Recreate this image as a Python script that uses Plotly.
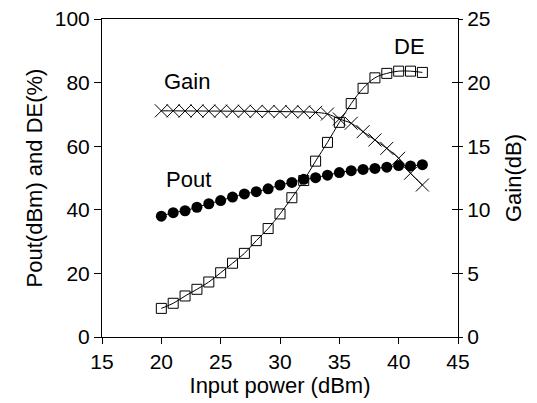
import plotly.graph_objects as go

input_power = list(range(20, 43))
pout = [38.0, 39.1, 39.7, 40.8, 41.9, 42.9, 44.0, 45.0, 45.7, 46.6, 47.8, 48.6,
        49.6, 50.1, 50.9, 51.7, 52.3, 52.7, 53.0, 53.4, 53.9, 53.8, 54.2]
de = [9.0, 10.6, 12.9, 15.0, 17.3, 20.2, 23.2, 26.3, 30.3, 34.1, 38.7, 43.8,
      49.2, 55.3, 61.2, 67.5, 73.4, 78.2, 81.5, 82.9, 83.6, 83.6, 83.2]
gain = [17.78, 17.78, 17.77, 17.77, 17.76, 17.76, 17.75, 17.75, 17.74, 17.73, 17.72, 17.71,
        17.70, 17.66, 17.53, 17.14, 16.8, 16.14, 15.49, 14.83, 14.05, 12.87, 11.95]

x_ticks = [15, 20, 25, 30, 35, 40, 45]
y_ticks = [0, 20, 40, 60, 80, 100]
y2_ticks = [0, 5, 10, 15, 20, 25]

FONT = "Liberation Sans, Arial, sans-serif"
fig = go.Figure()

fig.add_trace(go.Scatter(
    x=input_power, y=pout, mode="lines+markers", name="Pout",
    line=dict(color="black", width=1, shape="spline"),
    marker=dict(symbol="circle", size=11, color="black"),
))
fig.add_trace(go.Scatter(
    x=input_power, y=de, mode="lines+markers", name="DE",
    line=dict(color="black", width=1, shape="spline"),
    marker=dict(symbol="square-open", size=10, color="black", line=dict(width=1)),
))
fig.add_trace(go.Scatter(
    x=input_power, y=gain, mode="lines+markers", name="Gain", yaxis="y2",
    line=dict(color="black", width=1, shape="spline"),
    marker=dict(symbol="x-thin-open", size=13, color="black", line=dict(width=1, color="black")),
))

axis_common = dict(showline=True, linecolor="black", linewidth=1, ticks="outside",
                   tickcolor="black", ticklen=7, showgrid=False, zeroline=False,
                   automargin=False,
                   tickfont=dict(family=FONT, size=21, color="black"))

fig.update_layout(
    width=537, height=403,
    margin=dict(l=102, r=79, t=19, b=66),
    paper_bgcolor="white", plot_bgcolor="white",
    showlegend=False,
    font=dict(family=FONT, color="black"),
    xaxis=dict(range=[15, 45], tickvals=x_ticks, mirror=True,
               title=dict(text="Input power (dBm)", font=dict(family=FONT, size=22), standoff=0),
               **{**axis_common, "ticklen": 6}),
    yaxis=dict(range=[0, 100], tickvals=y_ticks,
               title=dict(text="Pout(dBm) and DE(%)", font=dict(family=FONT, size=22), standoff=6),
               **axis_common),
    yaxis2=dict(range=[0, 25], tickvals=y2_ticks, overlaying="y", side="right",
                title=dict(text="Gain(dB)", font=dict(family=FONT, size=22), standoff=16),
                **{**axis_common, "ticklen": 4}),
    yaxis3=dict(range=[0, 25], tickvals=y2_ticks, overlaying="y", side="right",
                anchor="x", showticklabels=False, ticks="inside", ticklen=6,
                tickcolor="black", showline=False, showgrid=False, zeroline=False,
                automargin=False),
)

fig.add_trace(go.Scatter(x=[None], y=[None], yaxis="y3", showlegend=False, hoverinfo="skip"))

for text, x, y in [("DE", 40.9, 91.5), ("Gain", 22.16, 80.5), ("Pout", 22.25, 49.4)]:
    fig.add_annotation(x=x, y=y, xref="x", yref="y", text=text, showarrow=False,
                       font=dict(family=FONT, size=22, color="black"))

fig.write_html("out.html", config={"displayModeBar": False},
               post_script="document.body.style.margin='0';document.body.style.overflow='hidden';")
